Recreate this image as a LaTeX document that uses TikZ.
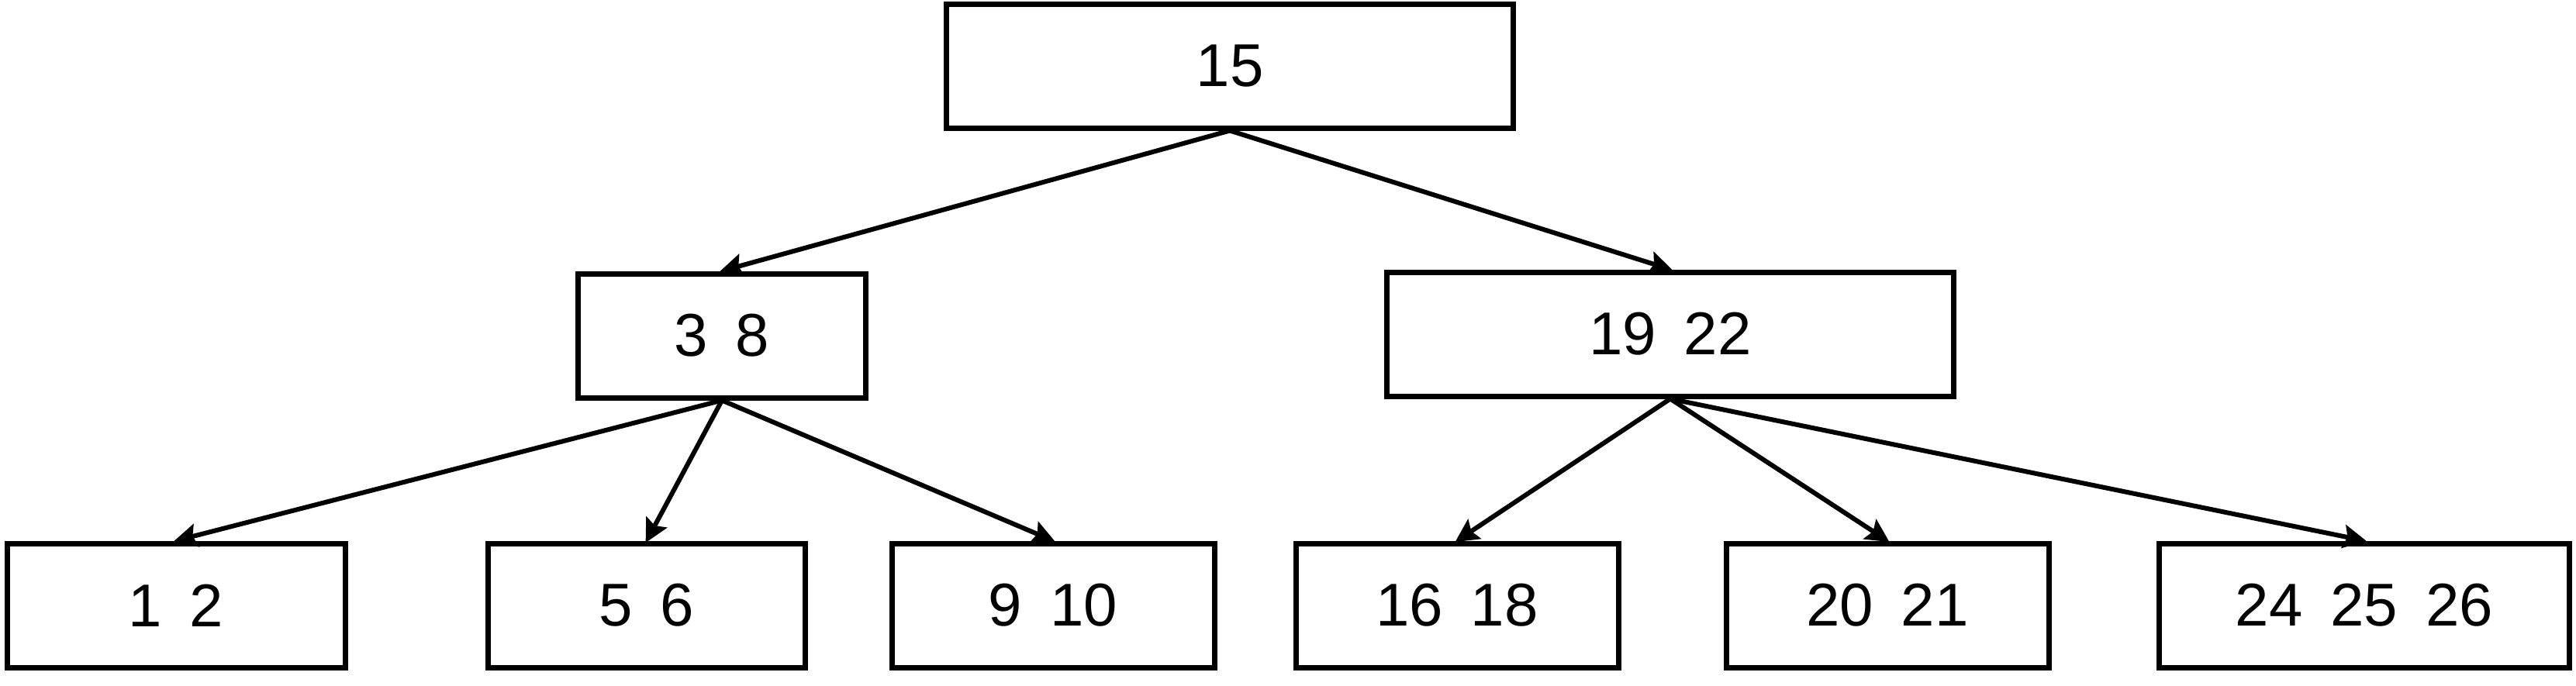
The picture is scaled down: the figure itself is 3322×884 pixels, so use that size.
\documentclass[tikz,border=0pt]{standalone}
\usepackage{fontspec}
\setmainfont{Liberation Sans}
\usetikzlibrary{arrows.meta}
\newcommand{\gp}{\hspace{36pt}}
\begin{document}
\begin{tikzpicture}[x=1pt,y=-1pt,
  keybox/.style={draw=black, line width=7pt, fill=white, minimum height=160pt, inner sep=0pt, font=\fontsize{78}{80}\selectfont},
  link/.style={line width=6pt, -{Stealth[length=30pt,width=30pt,inset=5pt]}, shorten >=-3pt}]
\useasboundingbox (0,0) rectangle (3322,884);
\node[keybox, minimum width=731pt] (r) at (1586,85) {15};
\node[keybox, minimum width=371pt] (a) at (931,433) {3\gp8};
\node[keybox, minimum width=731pt] (b) at (2154,431) {19\gp22};
\node[keybox, minimum width=436pt] (c1) at (227,781) {1\gp2};
\node[keybox, minimum width=409pt] (c2) at (834,781) {5\gp6};
\node[keybox, minimum width=416pt] (c3) at (1358,781) {9\gp10};
\node[keybox, minimum width=416pt] (c4) at (1879,781) {16\gp18};
\node[keybox, minimum width=416pt] (c5) at (2434,781) {20\gp21};
\node[keybox, minimum width=529pt] (c6) at (3049,781) {24\gp25\gp26};
\draw[link] (r.south) -- (a.north);
\draw[link] (r.south) -- (b.north);
\draw[link] (a.south) -- (c1.north);
\draw[link] (a.south) -- (c2.north);
\draw[link] (a.south) -- (c3.north);
\draw[link] (b.south) -- (c4.north);
\draw[link] (b.south) -- (c5.north);
\draw[link] (b.south) -- (c6.north);
\end{tikzpicture}
\end{document}
